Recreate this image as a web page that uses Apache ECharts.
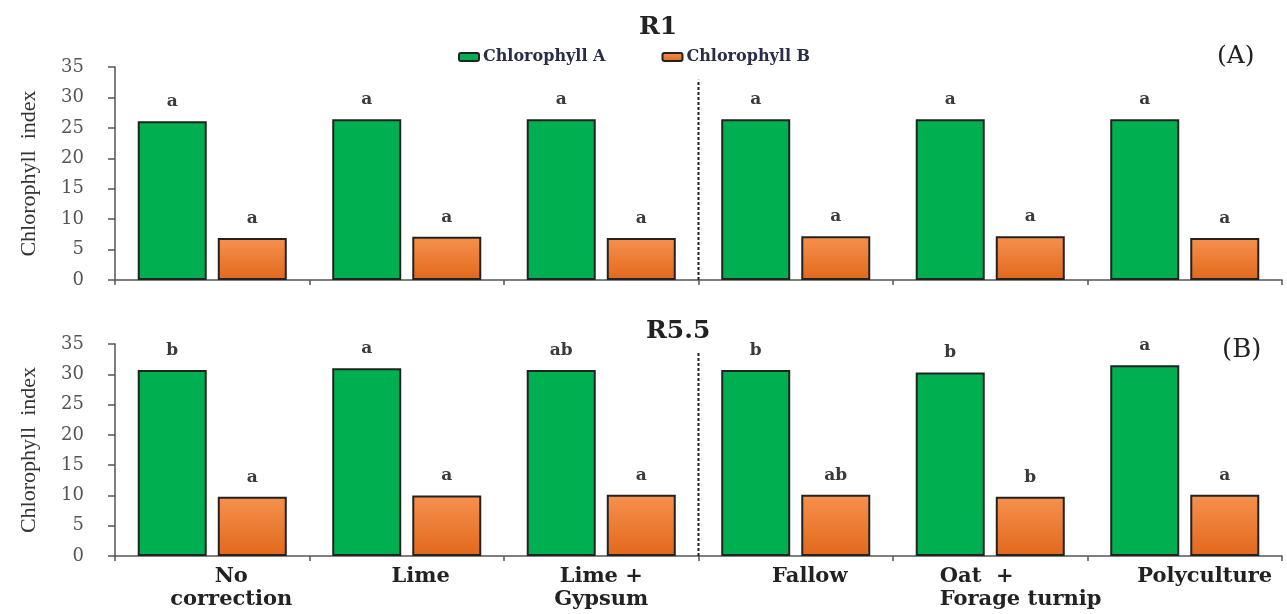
<!DOCTYPE html>
<html>
<head>
<meta charset="utf-8">
<title>Chlorophyll index</title>
<script src="https://cdn.jsdelivr.net/npm/echarts@6/dist/echarts.min.js"></script>
<style>
  html, body { margin: 0; padding: 0; background: #fff; }
  #chart { width: 1287px; height: 614px; }
</style>
</head>
<body>
<div id="chart"></div>
<script>
// Treatments (x categories)
const categories = ['No\ncorrection', 'Lime', 'Lime +\nGypsum', 'Fallow', 'Oat  +\nForage turnip', 'Polyculture'];
const seriesNames = ['Chlorophyll A', 'Chlorophyll B'];

// Panel A: R1
const r1ChlA = [26.1, 26.4, 26.4, 26.4, 26.4, 26.4];
const r1ChlB = [6.9, 7.1, 6.9, 7.2, 7.2, 6.9];
const r1ChlALetters = ['a', 'a', 'a', 'a', 'a', 'a'];
const r1ChlBLetters = ['a', 'a', 'a', 'a', 'a', 'a'];

// Panel B: R5.5
const r55ChlA = [30.7, 31.0, 30.7, 30.7, 30.3, 31.5];
const r55ChlB = [9.8, 10.0, 10.1, 10.1, 9.8, 10.1];
const r55ChlALetters = ['b', 'a', 'ab', 'b', 'b', 'a'];
const r55ChlBLetters = ['a', 'a', 'a', 'ab', 'b', 'a'];

// Y axis ticks
const yMin = 0, yMax = 35, yStep = 5;

// Dotted separator between the soil-correction and cover-crop groups (x in category units)
const separatorX = 3;
const separatorTop = [32.9, 33.7];

const serifWide = 'DejaVu Serif';
const serif = 'Liberation Serif';
const green = '#00b050';
const orange = {
  type: 'linear', x: 0, y: 0, x2: 0, y2: 1,
  colorStops: [{ offset: 0, color: '#f6914f' }, { offset: 1, color: '#e2681b' }]
};

// Category label styling: horizontal nudge (px) per label, last-but-one is left aligned
const labelFont = { fontFamily: serifWide, fontWeight: 'bold', fontSize: 21, color: '#222', lineHeight: 23 };
const labelNudge = [19, 14, 0, 14, 32, 20];
const labelRich = {};
labelNudge.forEach((dx, i) => {
  labelRich['c' + i] = Object.assign({ padding: [0, 0, 0, 2 * dx] }, labelFont);
});
labelRich.c4 = Object.assign({ padding: [0, 0, 0, 2 * labelNudge[4]], width: 165, align: 'left' }, labelFont);

const chart = echarts.init(document.getElementById('chart'), null, { renderer: 'canvas' });

function catAxis(gridIndex, showLabels) {
  return {
    type: 'category',
    gridIndex,
    data: categories,
    boundaryGap: true,
    axisLine: { lineStyle: { color: '#555', width: 1.5 } },
    axisTick: { show: true, length: 5, lineStyle: { color: '#555', width: 1.5 } },
    axisLabel: {
      show: showLabels,
      interval: 0,
      margin: 9,
      formatter: (value, index) => value.split('\n').map(line => '{c' + index + '|' + line + '}').join('\n'),
      rich: labelRich
    }
  };
}

function valAxis(gridIndex) {
  return {
    type: 'value',
    gridIndex,
    min: yMin,
    max: yMax,
    interval: yStep,
    name: 'Chlorophyll  index',
    nameLocation: 'middle',
    nameGap: 75,
    nameRotate: 90,
    nameTextStyle: { fontFamily: serif, fontSize: 22, color: '#333' },
    splitLine: { show: false },
    axisLine: { show: true, lineStyle: { color: '#555', width: 1.5 } },
    axisTick: { show: true, length: 7, lineStyle: { color: '#555', width: 1.5 } },
    axisLabel: { fontFamily: serifWide, fontSize: 18, color: '#555', margin: 31 }
  };
}

// Hidden linear x axis per panel, used to place the separator line
function sepAxis(gridIndex) {
  return { type: 'value', gridIndex, min: 0, max: categories.length, show: false };
}

function barSeries(name, values, letters, color, xi, yi) {
  return {
    name,
    type: 'bar',
    xAxisIndex: xi,
    yAxisIndex: yi,
    barWidth: 69,
    barGap: '16%',
    data: values,
    itemStyle: { color, borderColor: '#222', borderWidth: 2 },
    label: {
      show: true,
      position: 'top',
      distance: 11,
      fontFamily: serifWide,
      fontWeight: 'bold',
      fontSize: 17,
      color: '#3a3a3a',
      formatter: p => letters[p.dataIndex]
    }
  };
}

function separator(xi, yi, top) {
  return {
    type: 'line',
    xAxisIndex: xi,
    yAxisIndex: yi,
    data: [[separatorX, 0], [separatorX, top]],
    symbol: 'none',
    silent: true,
    lineStyle: { color: '#222', width: 2, type: [3, 2] },
    z: 5
  };
}

chart.setOption({
  backgroundColor: '#ffffff',
  animation: false,
  title: [
    { text: 'R1', left: 634, top: 10, textStyle: { fontFamily: serifWide, fontWeight: 'bold', fontSize: 25, color: '#222' } },
    { text: 'R5.5', left: 641, top: 314, textStyle: { fontFamily: serifWide, fontWeight: 'bold', fontSize: 25, color: '#222' } },
    { text: '(A)', left: 1212, top: 39, textStyle: { fontFamily: serifWide, fontWeight: 'normal', fontSize: 25, color: '#222' } },
    { text: '(B)', left: 1217, top: 332, textStyle: { fontFamily: serifWide, fontWeight: 'normal', fontSize: 26, color: '#222' } }
  ],
  legend: {
    data: seriesNames,
    left: 453,
    top: 44,
    itemWidth: 20,
    itemHeight: 8,
    itemGap: 56,
    textStyle: { fontFamily: serifWide, fontWeight: 'bold', fontSize: 16, color: '#2a2d48', padding: [0, 0, 0, -1] }
  },
  grid: [
    { left: 115, right: 5, top: 67, height: 213 },
    { left: 115, right: 5, top: 344, height: 212 }
  ],
  xAxis: [catAxis(0, false), catAxis(1, true), sepAxis(0), sepAxis(1)],
  yAxis: [valAxis(0), valAxis(1)],
  series: [
    barSeries(seriesNames[0], r1ChlA, r1ChlALetters, green, 0, 0),
    barSeries(seriesNames[1], r1ChlB, r1ChlBLetters, orange, 0, 0),
    barSeries(seriesNames[0], r55ChlA, r55ChlALetters, green, 1, 1),
    barSeries(seriesNames[1], r55ChlB, r55ChlBLetters, orange, 1, 1),
    separator(2, 0, separatorTop[0]),
    separator(3, 1, separatorTop[1])
  ]
});
</script>
</body>
</html>
